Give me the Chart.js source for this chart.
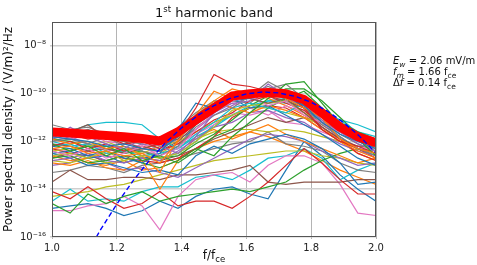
<!DOCTYPE html>
<html>
<head>
<meta charset="utf-8">
<script src="https://cdn.jsdelivr.net/npm/chart.js@4.4.1/dist/chart.umd.min.js"></script>
<style>
  html, body { margin: 0; padding: 0; background: #fff; }
</style>
</head>
<body>
<canvas id="psd" width="477" height="265"></canvas>
<script>
// normalised frequency of every spectrum point (f / fce)
const freqs = [1.000, 1.056, 1.111, 1.167, 1.222, 1.278, 1.333, 1.389, 1.444, 1.500,
               1.556, 1.611, 1.667, 1.722, 1.778, 1.833, 1.889, 1.944, 2.000];

// individual spectra, log10 of PSD in (V/m)^2/Hz
const traces = [
  [-11.8,-11.9,-12.0,-12.2,-12.1,-12.3,-12.4,-11.8,-10.9,-10.4,-10.1,-9.9,-10.0,-10.1,-10.5,-11.2,-11.7,-12.0,-12.3],
  [-12.3,-12.2,-12.5,-12.4,-12.6,-12.5,-12.9,-12.0,-10.9,-9.9,-10.2,-10.0,-9.8,-10.2,-10.6,-11.0,-11.9,-12.3,-12.5],
  [-12.1,-12.4,-12.2,-12.6,-12.3,-12.8,-12.6,-12.9,-12.4,-11.8,-11.5,-10.8,-10.2,-9.6,-9.5,-10.4,-11.3,-11.9,-12.6],
  [-11.6,-11.7,-11.9,-11.8,-12.1,-12.0,-12.3,-11.7,-10.6,-9.2,-9.6,-9.7,-9.9,-10.0,-10.6,-11.5,-12.0,-12.2,-12.5],
  [-11.9,-11.4,-11.8,-12.1,-12.3,-11.9,-12.2,-12.5,-11.8,-10.8,-10.4,-10.3,-9.6,-10.1,-10.4,-11.1,-11.6,-12.1,-12.4],
  [-11.7,-11.6,-11.3,-11.9,-12.0,-12.3,-12.1,-11.9,-11.2,-10.6,-10.0,-10.2,-10.4,-10.2,-10.8,-11.4,-11.9,-12.2,-12.2],
  [-12.4,-12.6,-12.3,-12.7,-12.5,-12.2,-12.6,-12.3,-11.5,-10.8,-10.3,-10.1,-10.5,-10.3,-10.9,-11.2,-11.6,-11.9,-12.0],
  [-12.0,-11.9,-12.1,-11.8,-12.2,-12.4,-12.6,-12.2,-11.4,-10.9,-10.6,-10.1,-9.5,-9.9,-10.6,-11.3,-11.8,-12.3,-12.6],
  [-12.6,-12.5,-12.7,-12.4,-12.8,-12.6,-12.7,-12.5,-12.0,-11.4,-10.7,-10.5,-10.4,-10.3,-10.8,-11.2,-11.5,-11.8,-12.1],
  [-11.5,-11.6,-11.3,-11.2,-11.2,-11.3,-11.9,-12.3,-11.7,-11.2,-10.6,-10.4,-10.6,-10.8,-10.4,-10.9,-11.4,-11.7,-11.9],
  [-12.2,-12.3,-12.6,-12.4,-12.7,-12.9,-12.5,-11.5,-10.4,-10.6,-10.2,-10.6,-10.5,-10.9,-11.3,-11.7,-12.2,-12.7,-13.0],
  [-11.9,-12.1,-12.0,-12.3,-12.2,-12.6,-13.3,-11.9,-10.9,-10.3,-10.6,-10.8,-10.5,-10.7,-11.0,-11.5,-12.0,-12.4,-12.7],
  [-12.7,-12.6,-12.9,-12.8,-12.6,-12.9,-13.1,-12.8,-12.3,-12.6,-11.8,-11.2,-10.6,-10.2,-9.9,-10.6,-11.2,-11.6,-11.9],
  [-12.2,-12.0,-12.3,-12.1,-12.4,-12.2,-12.4,-12.1,-11.6,-11.1,-10.8,-10.3,-10.1,-10.4,-10.7,-11.4,-11.9,-12.5,-12.8],
  [-12.8,-12.7,-12.5,-12.8,-12.9,-12.7,-12.8,-12.4,-11.9,-11.4,-11.2,-10.8,-10.7,-11.0,-11.2,-11.7,-12.1,-12.4,-12.6],
  [-12.1,-12.2,-12.4,-12.3,-12.5,-12.3,-12.4,-12.0,-11.3,-10.5,-10.2,-10.0,-10.1,-10.3,-10.6,-11.0,-11.4,-11.9,-12.2],
  [-11.8,-11.9,-11.7,-12.0,-12.1,-12.2,-12.1,-11.6,-11.0,-10.6,-10.4,-10.6,-10.9,-10.5,-10.8,-11.3,-11.6,-12.0,-12.3],
  [-11.3,-11.5,-11.4,-11.7,-11.9,-11.8,-12.0,-11.4,-10.8,-10.3,-10.3,-10.4,-9.8,-9.6,-10.2,-11.0,-11.5,-11.8,-12.1],
  [-12.4,-12.3,-12.2,-12.0,-12.3,-12.5,-12.2,-12.0,-11.6,-11.2,-10.9,-10.6,-10.6,-10.8,-11.0,-11.3,-11.6,-11.9,-12.3],
  [-12.0,-12.2,-12.1,-12.5,-12.4,-12.6,-12.5,-12.3,-11.8,-11.4,-10.9,-10.5,-10.3,-10.4,-10.4,-10.7,-11.1,-11.6,-11.8],
  [-12.5,-12.4,-12.7,-12.6,-12.9,-12.7,-12.6,-12.2,-11.3,-10.8,-10.3,-10.2,-10.4,-10.3,-10.6,-11.2,-11.8,-12.3,-12.5],
  [-12.6,-12.8,-12.7,-12.5,-12.4,-12.3,-12.1,-11.5,-11.2,-10.3,-9.8,-10.0,-10.2,-10.5,-10.9,-11.4,-12.0,-12.5,-12.8],
  [-11.9,-12.0,-12.2,-12.2,-12.5,-12.4,-12.7,-12.6,-12.1,-11.7,-11.1,-10.5,-10.1,-9.8,-9.8,-10.3,-11.0,-11.7,-12.2],
  [-12.3,-12.5,-12.4,-12.6,-12.7,-12.8,-12.9,-12.7,-12.3,-11.8,-11.0,-10.6,-10.5,-10.6,-11.0,-11.5,-12.0,-12.3,-12.7],
  [-12.0,-11.8,-12.1,-12.3,-12.4,-12.1,-12.3,-11.9,-11.5,-10.9,-10.5,-10.1,-9.9,-10.2,-10.5,-11.2,-11.9,-12.3,-12.4],
  [-12.7,-12.5,-12.6,-12.8,-12.6,-12.7,-12.8,-12.6,-12.3,-11.9,-11.6,-11.3,-11.0,-11.2,-11.0,-11.2,-11.5,-11.8,-12.0],
  [-12.3,-12.4,-12.1,-12.4,-12.3,-12.5,-12.4,-12.1,-11.7,-11.3,-10.8,-10.9,-10.7,-11.2,-11.3,-11.6,-11.9,-12.2,-12.4],
  [-11.9,-11.7,-11.5,-11.8,-12.0,-12.1,-12.3,-11.8,-11.1,-10.4,-10.1,-10.0,-9.7,-10.0,-10.5,-11.1,-11.7,-12.1,-12.4],
  [-12.8,-12.9,-12.7,-12.9,-12.8,-12.6,-12.5,-12.1,-11.9,-11.6,-11.5,-11.5,-11.6,-11.5,-11.6,-11.8,-12.0,-12.2,-12.3],
  [-12.2,-12.1,-12.4,-12.2,-12.3,-12.4,-12.7,-12.5,-12.0,-11.3,-10.9,-10.6,-10.3,-10.2,-10.5,-10.8,-11.1,-11.3,-11.6],
  [-12.5,-12.7,-13.0,-12.9,-13.1,-13.3,-13.2,-13.4,-12.6,-12.2,-12.5,-12.1,-11.9,-11.7,-11.9,-12.3,-12.9,-13.8,-13.7],
  [-12.9,-13.0,-12.8,-13.1,-13.2,-12.8,-14.0,-12.8,-11.8,-11.5,-11.9,-11.6,-11.3,-11.7,-12.0,-12.3,-12.6,-12.9,-12.7],
  [-14.6,-15.0,-14.2,-14.6,-14.3,-14.1,-14.5,-14.3,-14.2,-14.1,-14.0,-14.1,-13.9,-13.7,-13.2,-12.8,-12.5,-12.3,-12.6],
  [-14.1,-14.4,-13.9,-14.4,-14.8,-14.6,-14.1,-14.7,-14.5,-14.5,-14.8,-14.3,-13.7,-13.0,-12.3,-12.9,-13.6,-14.2,-14.2],
  [-13.0,-12.9,-12.5,-12.9,-13.2,-13.1,-13.3,-13.5,-13.1,-12.7,-12.3,-11.9,-11.7,-11.8,-12.0,-12.4,-12.7,-13.0,-12.9],
  [-13.7,-13.2,-13.6,-13.6,-13.5,-13.5,-13.6,-13.4,-13.4,-13.3,-13.2,-13.0,-13.7,-13.8,-13.7,-13.7,-13.7,-13.6,-13.6],
  [-14.9,-14.9,-14.7,-14.6,-14.3,-14.7,-15.7,-14.3,-13.6,-13.4,-13.3,-13.7,-13.0,-12.6,-12.6,-12.9,-13.8,-15.0,-15.1],
  [-13.3,-13.2,-13.0,-13.1,-13.3,-13.0,-12.9,-12.7,-12.5,-12.3,-12.1,-12.0,-11.6,-12.1,-12.2,-12.4,-12.9,-13.2,-13.3],
  [-14.3,-14.2,-14.1,-13.9,-13.8,-13.6,-13.4,-13.2,-13.0,-12.8,-12.7,-12.6,-12.5,-12.4,-12.4,-12.6,-12.7,-12.9,-13.0],
  [-14.5,-14.0,-14.5,-14.4,-14.5,-14.1,-13.9,-13.9,-13.5,-13.4,-13.6,-13.2,-12.7,-12.6,-12.3,-12.7,-13.6,-13.2,-12.9],
  [-14.8,-14.7,-14.6,-14.8,-15.1,-14.9,-14.5,-14.8,-14.3,-14.0,-13.9,-14.2,-14.4,-13.2,-12.0,-12.6,-13.4,-14.0,-14.5],
  [-12.4,-12.6,-12.9,-13.0,-12.8,-13.2,-13.1,-12.8,-12.3,-12.0,-11.8,-11.6,-11.8,-12.1,-12.4,-12.8,-13.2,-13.5,-13.8]
];

// averaged spectrum (thick red), log10
const meanPsd = [-11.6,-11.65,-11.7,-11.75,-11.8,-11.88,-11.98,-11.6,-11.1,-10.6,
                 -10.1,-10.0,-9.95,-10.0,-10.25,-10.8,-11.4,-11.8,-12.05];

// gaussian model, log10
const fitFreq = [1.10,1.15,1.20,1.25,1.30,1.35,1.40,1.45,1.50,1.55,1.60,
                 1.65,1.70,1.75,1.80,1.85,1.90,1.95,2.00];
const fitPsd  = [-16.87,-15.69,-14.62,-13.65,-12.80,-12.06,-11.43,-10.91,-10.50,-10.20,-10.01,
                 -9.93,-9.97,-10.11,-10.36,-10.73,-11.21,-11.79,-12.49];

const xTicks = [1.0, 1.2, 1.4, 1.6, 1.8, 2.0];
const yTicks = [-16, -14, -12, -10, -8];
const supers = {'-': '\u207b', '0': '\u2070', '1': '\u00b9', '2': '\u00b2', '3': '\u00b3', '4': '\u2074',
                '5': '\u2075', '6': '\u2076', '7': '\u2077', '8': '\u2078', '9': '\u2079'};

const tab10 = ['#1f77b4','#ff7f0e','#2ca02c','#d62728','#9467bd',
               '#8c564b','#e377c2','#7f7f7f','#bcbd22','#17becf'];

const FONT = '"DejaVu Sans", sans-serif';

const toPts = (xs, logs) => xs.map((x, i) => ({ x: x, y: Math.pow(10, logs[i]) }));

let datasets = traces.map((t, i) => ({
  data: toPts(freqs, t),
  borderColor: tab10[i % 10],
  borderWidth: 1.2,
  pointRadius: 0,
  order: 2
}));

datasets.push({
  data: toPts(freqs, meanPsd),
  borderColor: '#ff0000',
  borderWidth: 9,
  pointRadius: 0,
  borderJoinStyle: 'round',
  order: 1
});

datasets.push({
  data: toPts(fitFreq, fitPsd),
  borderColor: '#0000ff',
  borderWidth: 1.4,
  borderDash: [5, 3],
  pointRadius: 0,
  order: 0
});

// small helper: draws runs of [text, size, dy, italic] left to right
function drawRuns(ctx, x, y, runs) {
  runs.forEach(r => {
    ctx.font = (r[3] ? 'italic ' : '') + r[1] + 'px ' + FONT;
    ctx.fillText(r[0], x, y + r[2]);
    x += ctx.measureText(r[0]).width;
  });
  return x;
}
function runsWidth(ctx, runs) {
  let w = 0;
  runs.forEach(r => {
    ctx.font = (r[3] ? 'italic ' : '') + r[1] + 'px ' + FONT;
    w += ctx.measureText(r[0]).width;
  });
  return w;
}

const extraText = {
  id: 'extraText',
  afterDraw(chart) {
    const ctx = chart.ctx, a = chart.chartArea;
    ctx.save();
    ctx.strokeStyle = '#555';
    ctx.lineWidth = 1;
    ctx.strokeRect(Math.round(a.left) + 0.5, Math.round(a.top) + 0.5,
                   Math.round(a.right - a.left) - 1, Math.round(a.bottom - a.top) - 1);

    ctx.fillStyle = '#111';
    ctx.textBaseline = 'alphabetic';
    ctx.textAlign = 'left';
    const cx = (a.left + a.right) / 2;

    // title
    const title = [['1', 13, 0], ['st', 8.5, -5], [' harmonic band', 13, 0]];
    drawRuns(ctx, cx - runsWidth(ctx, title) / 2, 17, title);

    // x label
    const xl = [['f/f', 12, 0], ['ce', 8.5, 3]];
    drawRuns(ctx, cx - runsWidth(ctx, xl) / 2, 259, xl);

    // fit parameters
    const px = 393;
    drawRuns(ctx, px, 64, [['E', 10, 0, true], ['w', 7.5, 3, true], [' = 2.06 mV/m', 10, 0]]);
    drawRuns(ctx, px, 75, [['f', 10, 0, true], ['m', 7.5, 3, true], [' = 1.66 f', 10, 0], ['ce', 7.5, 3]]);
    drawRuns(ctx, px, 86, [['\u0394', 10, 0], ['f', 10, 0, true], [' = 0.14 f', 10, 0], ['ce', 7.5, 3]]);
    ctx.restore();
  }
};

new Chart(document.getElementById('psd'), {
  type: 'line',
  data: { datasets: datasets },
  plugins: [extraText],
  options: {
    responsive: false,
    animation: false,
    events: [],
    layout: { padding: { top: 22, right: 101, left: 0, bottom: 0 } },
    plugins: { legend: { display: false }, tooltip: { enabled: false } },
    scales: {
      x: {
        type: 'linear',
        min: 1, max: 2,
        afterBuildTicks: s => { s.ticks = xTicks.map(v => ({ value: v })); },
        afterFit: s => { s.height = 28; },
        ticks: {
          callback: v => v.toFixed(1),
          font: { family: FONT, size: 10 },
          color: '#222',
          padding: 3,
          maxRotation: 0
        },
        grid: { color: '#b4b4b4', lineWidth: 1, drawTicks: true, tickLength: 2 },
        border: { display: false }
      },
      y: {
        type: 'logarithmic',
        min: 1e-16, max: 1e-7,
        afterBuildTicks: s => { s.ticks = yTicks.map(e => ({ value: Math.pow(10, e) })); },
        afterFit: s => { s.width = 52; },
        ticks: {
          callback: v => '10' + String(Math.round(Math.log10(v))).split('').map(c => supers[c]).join(''),
          font: { family: FONT, size: 10 },
          color: '#222',
          padding: 4
        },
        grid: { color: '#cfcfcf', lineWidth: 1.5, drawTicks: true, tickLength: 2 },
        border: { display: false },
        title: {
          display: true,
          text: 'Power spectral density / (V/m)\u00b2/Hz',
          font: { family: FONT, size: 12 },
          color: '#111',
          padding: { top: 2, bottom: 0 }
        }
      }
    }
  }
});
</script>
</body>
</html>
